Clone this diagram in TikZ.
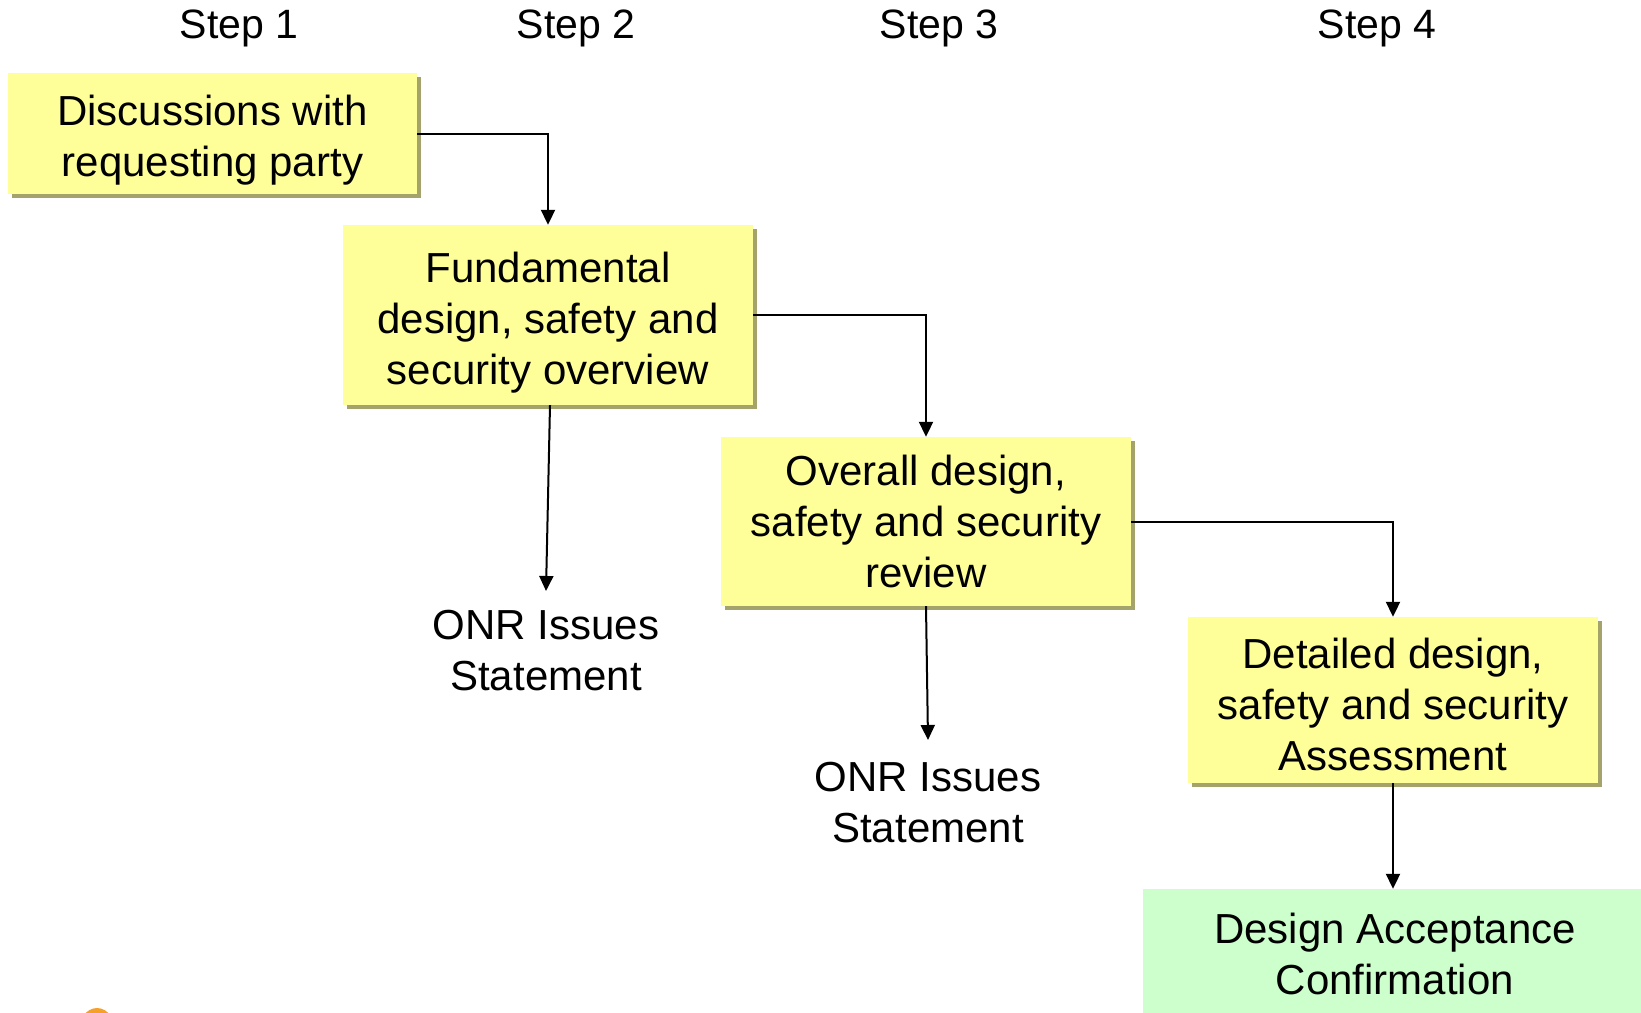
\documentclass[tikz,border=0pt]{standalone}
\usepackage{fontspec}
\setmainfont{Liberation Sans}
\usetikzlibrary{arrows.meta,shadows}
\definecolor{yel}{HTML}{FFFF99}
\definecolor{shadowc}{HTML}{A3A36B}
\definecolor{grn}{HTML}{CCFFCC}
\definecolor{logoorange}{HTML}{F5A02A}
\newcommand{\topgap}[1]{\rule{0pt}{#1}}
\begin{document}
\begin{tikzpicture}[x=1pt,y=-1pt,
  every node/.style={font=\fontsize{42}{51}\selectfont, align=center, text=black},
  ybox/.style={fill=yel, inner sep=0pt,
    drop shadow={shadow xshift=4pt, shadow yshift=-4pt, fill=shadowc, opacity=1}},
  gbox/.style={fill=grn, inner sep=0pt},
  steplabel/.style={inner sep=0pt, font=\fontsize{41}{49}\selectfont},
  plain/.style={inner sep=0pt},
  conn/.style={line width=2pt, -{Triangle[width=14pt,length=15pt]}}
]
\useasboundingbox (0,0) rectangle (1641,1012);
\clip (0,0) rectangle (1641,1012);

% step labels
\node[steplabel] (s1) at (239,28) {Step 1};
\node[steplabel] (s2) at (576,28) {Step 2};
\node[steplabel] (s3) at (939,28) {Step 3};
\node[steplabel] (s4) at (1377,28) {Step 4};

% boxes
\node[ybox, minimum width=409pt, minimum height=121pt] (b1) at (212.5,133.5)
  {\topgap{44.5pt}Discussions with\\requesting party};
\node[ybox, minimum width=410pt, minimum height=180pt] (b2) at (548,315)
  {\topgap{46.5pt}Fundamental\\design, safety and\\security overview};
\node[ybox, minimum width=410pt, minimum height=169pt] (b3) at (926,521.5)
  {Overall design,\\safety and security\\review};
\node[ybox, minimum width=410pt, minimum height=166pt] (b4) at (1393,700)
  {\topgap{38.5pt}Detailed design,\\safety and security\\Assessment};
\node[gbox, minimum width=504pt, minimum height=130pt] (g) at (1395,954)
  {Design Acceptance\\Confirmation};

% issue statements
\node[plain, anchor=north, inner ysep=22pt] (o1) at (546,588)
  {ONR Issues\\Statement};
\node[plain, anchor=north, inner ysep=22pt] (o2) at (928,740)
  {ONR Issues\\Statement};

% connectors
\draw[conn] (b1.east) -| (b2.north);
\draw[conn] (b2.east) -| (b3.north);
\draw[conn] (b3.east) -| (b4.north);
\draw[conn] (b4.south) -- (b4.south |- g.north);
\draw[conn] ([xshift=2pt]b2.south) -- ([yshift=-3pt]o1.north);
\draw[conn] (b3.south) -- (o2.north);

% partial logo at the bottom edge
\fill[logoorange] (97,1036) ellipse [x radius=20pt, y radius=28pt];
\end{tikzpicture}
\end{document}
